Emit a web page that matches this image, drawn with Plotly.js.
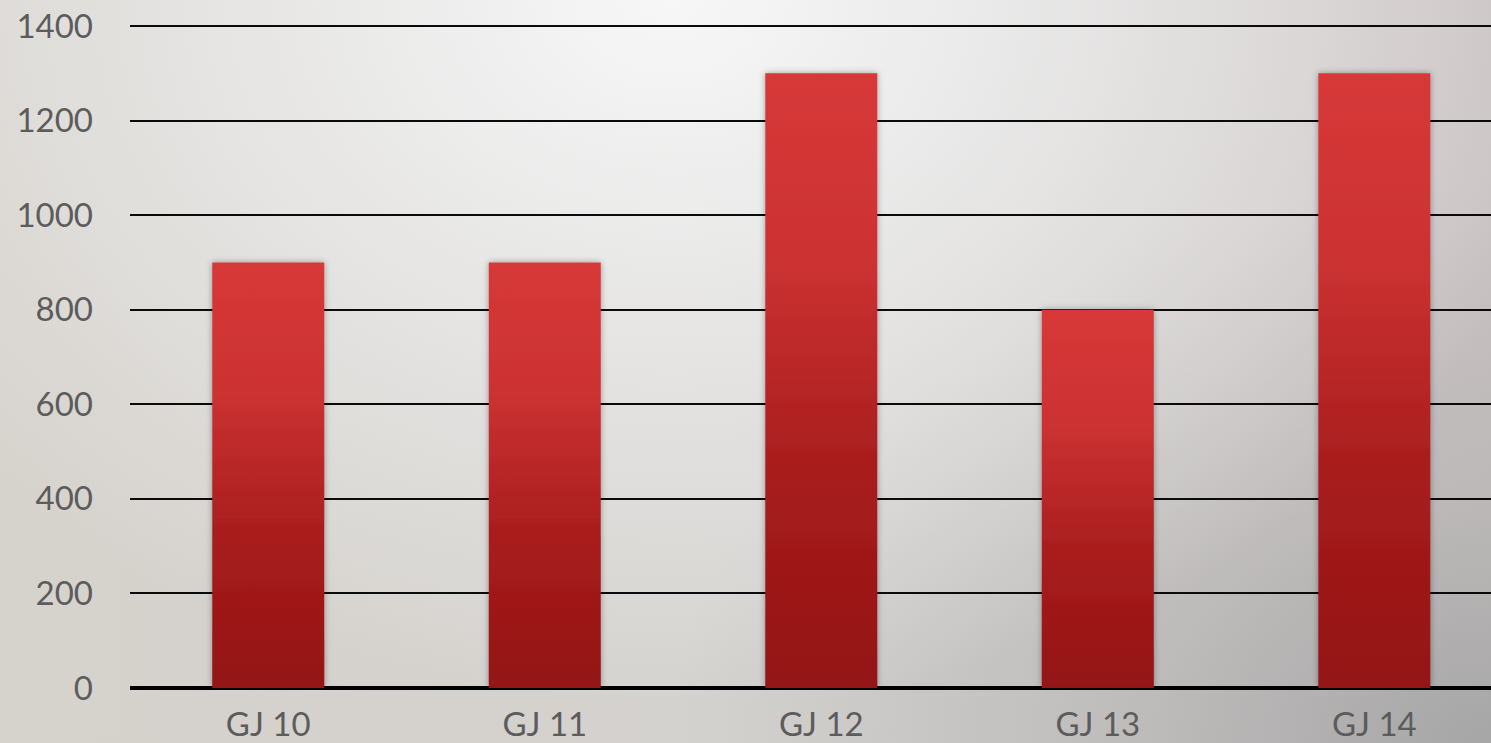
<!DOCTYPE html>
<html>
<head>
<meta charset="utf-8">
<script src="https://cdn.plot.ly/plotly-3.0.1.min.js"></script>
<style>
  html, body { margin: 0; padding: 0; width: 1491px; height: 743px; overflow: hidden; }
  body {
    background:
      radial-gradient(ellipse 62% 95% at 45% 0%, rgba(247,247,247,1) 0%, rgba(238,238,238,0.85) 35%, rgba(228,228,228,0) 100%),
      radial-gradient(ellipse 55% 75% at 100% 100%, rgba(165,165,165,0.95) 0%, rgba(175,175,175,0.5) 45%, rgba(180,180,180,0) 100%),
      linear-gradient(to right, #d6d2cc 0%, #d4d2cf 55%, #cac2c2 100%);
  }
  #chart { width: 1491px; height: 743px; }
</style>
</head>
<body>
<svg width="0" height="0" style="position:absolute">
  <defs>
    <linearGradient id="barGrad" x1="0" y1="0" x2="0" y2="1">
      <stop offset="0%" stop-color="#d73838"/>
      <stop offset="30%" stop-color="#cc3232"/>
      <stop offset="65%" stop-color="#a81d1d"/>
      <stop offset="100%" stop-color="#931212"/>
    </linearGradient>
    <filter id="barShadow" x="-10%" y="-5%" width="120%" height="110%">
      <feDropShadow dx="0" dy="0" stdDeviation="3" flood-color="#000" flood-opacity="0.35"/>
    </filter>
  </defs>
</svg>
<div id="chart"></div>
<script>
const categories = ["GJ 10", "GJ 11", "GJ 12", "GJ 13", "GJ 14"];
const values = [900, 900, 1300, 800, 1300];
const yTicks = [0, 200, 400, 600, 800, 1000, 1200, 1400];

const trace = {
  type: "bar",
  x: categories,
  y: values,
  marker: { color: "#c62c2c", line: { width: 0 } },
  hoverinfo: "x+y"
};

const tickFont = { family: "Lato, 'Open Sans', sans-serif", size: 33, color: "#5c5c5c", weight: 400 };

const layout = {
  width: 1491,
  height: 743,
  margin: { l: 130, r: 0, t: 24, b: 55, pad: 0 },
  paper_bgcolor: "rgba(0,0,0,0)",
  plot_bgcolor: "rgba(0,0,0,0)",
  bargap: 0.595,
  showlegend: false,
  xaxis: {
    type: "category",
    range: [-0.5, 4.422],
    showgrid: false,
    showline: false,
    zeroline: false,
    ticks: "",
    tickfont: tickFont,
    ticklabelstandoff: 14
  },
  yaxis: {
    range: [0, 1404.3],
    tickvals: yTicks,
    ticktext: yTicks.map(String),
    showgrid: true,
    gridcolor: "#0a0a0a",
    gridwidth: 2,
    zeroline: true,
    zerolinecolor: "#000000",
    zerolinewidth: 4,
    showline: false,
    ticks: "",
    tickfont: tickFont,
    ticklabelstandoff: 36
  }
};

Plotly.newPlot("chart", [trace], layout, { displayModeBar: false, staticPlot: true }).then(function (gd) {
  gd.querySelectorAll(".trace.bars .point path").forEach(function (p) {
    p.style.fill = "url(#barGrad)";
    p.setAttribute("filter", "url(#barShadow)");
  });
});
</script>
</body>
</html>
